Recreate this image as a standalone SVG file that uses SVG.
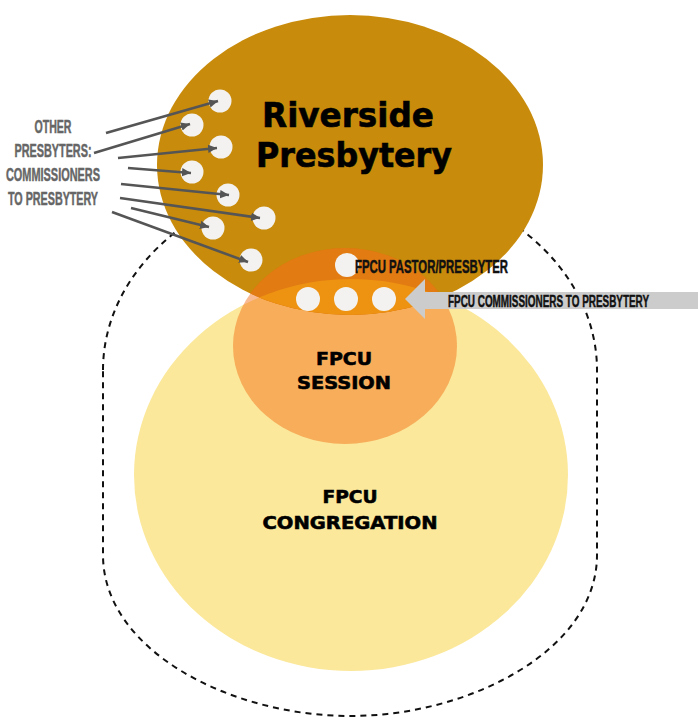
<svg xmlns="http://www.w3.org/2000/svg" width="698" height="723" viewBox="0 0 698 723">
  <style>
    .big { font-family: "DejaVu Sans", "Liberation Sans", sans-serif; font-weight: bold; fill: #000; stroke: #000; stroke-width: 0.6; text-anchor: middle; }
    .cond { font-family: "Liberation Sans", "DejaVu Sans", sans-serif; font-weight: bold; stroke-width: 0.5; }
    .dark { fill: #111; stroke: #111; }
    .side { fill: #666; stroke: #666; text-anchor: middle; font-size: 19px; }
    .dot { fill: #F3F2F0; }
    .link { stroke: #555; stroke-width: 2.6; fill: none; marker-end: url(#tip); }
  </style>
  <defs>
    <marker id="tip" markerUnits="userSpaceOnUse" markerWidth="10" markerHeight="10" refX="9" refY="5" orient="auto">
      <path d="M0,0.8 L9,5 L0,9.2 Z" fill="#555"/>
    </marker>
    <clipPath id="inPresbytery"><ellipse cx="350" cy="165" rx="193" ry="150"/></clipPath>
    <clipPath id="inSession"><ellipse cx="345" cy="346" rx="112" ry="98"/></clipPath>
  </defs>

  <!-- dashed boundary around the congregation -->
  <path id="boundary" d="M103 370 A247 195 0 0 1 597 370 L597 555 C597 650 470 716 350 716 C230 716 103 650 103 555 Z" fill="none" stroke="#111" stroke-width="2" stroke-dasharray="6 5"/>

  <g id="congregation">
    <ellipse cx="351" cy="475" rx="217" ry="196" fill="#FBE89B"/>
  </g>

  <g id="presbytery">
    <ellipse cx="350" cy="165" rx="193" ry="150" fill="#C98B0B"/>
  </g>

  <g id="session">
    <ellipse cx="345" cy="346" rx="112" ry="98" fill="rgb(242,103,11)" fill-opacity="0.45"/>
    <g clip-path="url(#inPresbytery)">
      <ellipse cx="345" cy="346" rx="112" ry="98" fill="#E17B12"/>
      <g clip-path="url(#inSession)">
        <ellipse cx="351" cy="475" rx="217" ry="196" fill="#EE9212"/>
      </g>
    </g>
  </g>

  <!-- commissioners from other presbyteries -->
  <g id="others">
    <circle class="dot" cx="220" cy="101" r="11.5"/>
    <circle class="dot" cx="192" cy="125" r="11.5"/>
    <circle class="dot" cx="221" cy="147" r="11.5"/>
    <circle class="dot" cx="192" cy="172" r="11.5"/>
    <circle class="dot" cx="228" cy="195" r="11.5"/>
    <circle class="dot" cx="264" cy="218" r="11.5"/>
    <circle class="dot" cx="213" cy="228" r="11.5"/>
    <circle class="dot" cx="251" cy="260" r="11.5"/>
  </g>

  <g id="pastor">
    <circle class="dot" cx="347" cy="265" r="12"/>
    <text class="cond dark" transform="translate(355,273) scale(0.627,1)" x="0" y="0" font-size="18" textLength="244" lengthAdjust="spacingAndGlyphs">FPCU  PASTOR/PRESBYTER</text>
  </g>

  <g id="commissioners">
    <circle class="dot" cx="308" cy="299" r="12"/>
    <circle class="dot" cx="346" cy="299" r="12"/>
    <circle class="dot" cx="384" cy="299" r="12"/>
  </g>

  <g id="connectors">
    <line class="link" x1="106" y1="133" x2="218" y2="101"/>
    <line class="link" x1="94" y1="153" x2="190" y2="124"/>
    <line class="link" x1="118" y1="158" x2="217" y2="148"/>
    <line class="link" x1="128" y1="168" x2="191" y2="173"/>
    <line class="link" x1="121" y1="184" x2="229" y2="195"/>
    <line class="link" x1="120" y1="198" x2="260" y2="218"/>
    <line class="link" x1="131" y1="208" x2="209" y2="227"/>
    <line class="link" x1="112" y1="212" x2="248" y2="262"/>
    <polygon id="commissionerArrow" points="405,299 425,279 425,292 698,292 698,309 425,309 425,319" fill="#CCCCCC"/>
  </g>

  <g id="commissionerLabel">
    <text class="cond dark" transform="translate(448,307) scale(0.581,1)" x="0" y="0" font-size="17" textLength="346" lengthAdjust="spacingAndGlyphs">FPCU  COMMISSIONERS TO PRESBYTERY</text>
  </g>

  <g id="othersLabel" class="cond side" transform="scale(0.565,1)">
    <text x="93.8" y="133" textLength="65.5" lengthAdjust="spacingAndGlyphs">OTHER</text>
    <text x="93.8" y="157" textLength="136.3" lengthAdjust="spacingAndGlyphs">PRESBYTERS:</text>
    <text x="93.8" y="181" textLength="166.4" lengthAdjust="spacingAndGlyphs">COMMISSIONERS</text>
    <text x="93.8" y="205" textLength="159.3" lengthAdjust="spacingAndGlyphs">TO PRESBYTERY</text>
  </g>

  <g id="presbyteryLabel" class="big" font-size="33" stroke-width="1">
    <text x="348" y="127" textLength="172" lengthAdjust="spacingAndGlyphs">Riverside</text>
    <text x="354" y="167" textLength="196" lengthAdjust="spacingAndGlyphs">Presbytery</text>
  </g>

  <g id="sessionLabel" class="big" font-size="17.5">
    <text x="344" y="365" textLength="56" lengthAdjust="spacingAndGlyphs">FPCU</text>
    <text x="344" y="389" textLength="94" lengthAdjust="spacingAndGlyphs">SESSION</text>
  </g>

  <g id="congregationLabel" class="big" font-size="18">
    <text x="350" y="503" textLength="55" lengthAdjust="spacingAndGlyphs">FPCU</text>
    <text x="350" y="529" textLength="175" lengthAdjust="spacingAndGlyphs">CONGREGATION</text>
  </g>
</svg>
